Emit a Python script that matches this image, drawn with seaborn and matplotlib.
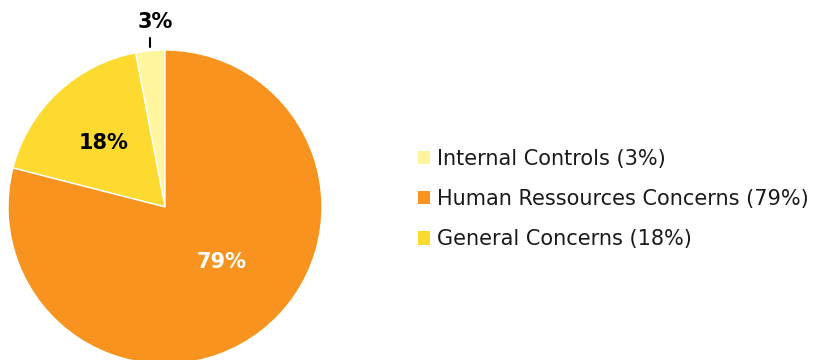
import numpy as np
import matplotlib
matplotlib.use("Agg")
import matplotlib.pyplot as plt
import seaborn as sns
from matplotlib.patches import Patch

sns.set_theme(style="white")
plt.rcParams['font.family'] = ['DejaVu Sans']

# Données
categories = ["Internal Controls", "General Concerns", "Human Ressources Concerns"]
values = [3, 18, 79]
colors = ["#FFF59D", "#FDDA2F", "#F7931E"]
label_colors = ["black", "black", "white"]
legend_order = [0, 2, 1]

fig = plt.figure(figsize=(8.38, 3.6), dpi=100)
ax = fig.add_axes([8 / 838, -4 / 360, 314 / 838, 314 / 360])

wedges, _ = ax.pie(values, colors=colors, startangle=90, counterclock=True,
                   radius=1, wedgeprops=dict(edgecolor="white", linewidth=1))
ax.set_xlim(-1, 1)
ax.set_ylim(-1, 1)
ax.set_aspect("equal")
ax.axis("off")

# Étiquettes de pourcentage
ax.text(-0.064, 1.18, f"{values[0]}%", ha="center", va="center", fontsize=15,
        fontweight="bold", color=label_colors[0], clip_on=False)
ax.plot([-0.096, -0.096], [1.02, 1.076], color="black", lw=1.5, clip_on=False)
ax.text(-0.39, 0.41, f"{values[1]}%", ha="center", va="center", fontsize=15,
        fontweight="bold", color=label_colors[1])
ax.text(0.36, -0.35, f"{values[2]}%", ha="center", va="center", fontsize=15,
        fontweight="bold", color=label_colors[2])

# Légende
handles = [Patch(facecolor=colors[i], edgecolor="none") for i in legend_order]
labels = [f"{categories[i]} ({values[i]}%)" for i in legend_order]
fig.legend(handles, labels, loc="center left", bbox_to_anchor=(399 / 838, 0.447),
           frameon=False, fontsize=15, handlelength=0.6, handleheight=0.6,
           handletextpad=0.3, labelspacing=0.97, labelcolor="#1a1a1a")

fig.savefig("out.png", dpi=100)
